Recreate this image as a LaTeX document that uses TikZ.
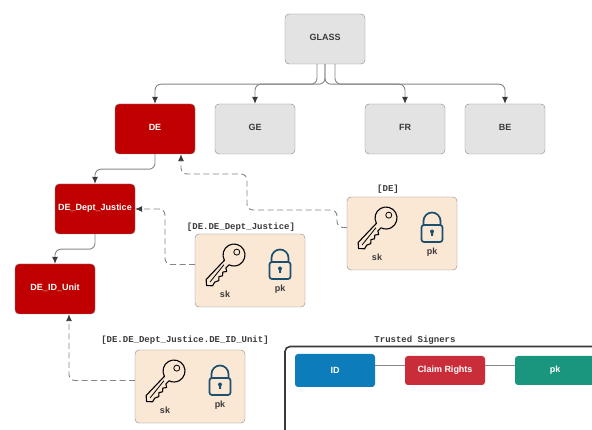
\documentclass[tikz,border=0pt]{standalone}
\usepackage{fontspec}
\setmainfont{Liberation Sans}
\setmonofont{Liberation Mono}
\usetikzlibrary{arrows.meta}
\definecolor{boxgray}{HTML}{E3E3E3}
\definecolor{edgegray}{HTML}{858585}
\definecolor{darkred}{HTML}{C00000}
\definecolor{cardpeach}{HTML}{FAE8D5}
\definecolor{lockblue}{HTML}{1A4F70}
\definecolor{idblue}{HTML}{0C7CBA}
\definecolor{rightsred}{HTML}{C92D39}
\definecolor{pkgreen}{HTML}{19967D}
\definecolor{inkgray}{HTML}{3A3A3A}
\tikzset{
  base/.style={rounded corners=4pt, minimum width=80pt, minimum height=50pt, inner sep=0pt,
    text height=6.5pt, text depth=2.5pt, font=\fontsize{9}{11}\selectfont\bfseries},
  org/.style={base, draw=edgegray, fill=boxgray, text=inkgray},
  member/.style={base, draw=edgegray, fill=darkred, text=white},
  card/.style={draw=edgegray, fill=cardpeach, rounded corners=4pt, minimum width=110pt, minimum height=73pt},
  cardtext/.style={font=\fontsize{9}{11}\selectfont\bfseries, text=inkgray},
  keyname/.style={font=\fontsize{9}{11}\selectfont\ttfamily\bfseries, text=inkgray},
  cell/.style={rounded corners=3pt, minimum width=80pt, minimum height=29pt, inner sep=0pt, text=white,
    font=\fontsize{9}{11}\selectfont\bfseries},
  conn/.style={draw=edgegray, line width=0.9pt, rounded corners=6pt, -{Latex[length=7pt,width=6pt,color=inkgray]}},
  dashconn/.style={conn, dash pattern=on 6pt off 3.5pt},
  tie/.style={draw=edgegray, line width=1.3pt},
  keyicon/.pic={
    \draw[x=1pt, y=1pt, rotate=46, line width=1.1pt, line join=round, black]
      (-10.5,3.2) arc[start angle=163, end angle=-163, radius=11]
      -- (-15,-3.2) -- (-17,-6.2) -- (-20,-3.8) -- (-23,-6.2) -- (-26,-4.2) -- (-29,-6.8) -- (-33,-5)
      -- (-37,-6) -- (-41,-1.5) -- (-37,3) -- cycle;
    \draw[x=1pt, y=1pt, rotate=46, line width=0.8pt, black]
      (4,0) circle[radius=3] (-14,0.5) -- (-36,-1.5);
  },
  lockicon/.pic={
    \draw[x=1pt, y=1pt, lockblue, line width=1.7pt]
      (-8.5,0) -- (-8.5,4) arc[start angle=180, end angle=0, radius=8.5] -- (8.5,0);
    \draw[x=1pt, y=1pt, lockblue, line width=1.7pt, fill=cardpeach, rounded corners=2.5pt]
      (-10.5,-17) rectangle (10.5,0);
    \fill[x=1pt, y=1pt, lockblue] (0,-6.5) circle[radius=2] (-1,-6.5) rectangle (1,-11);
  },
  signcard/.pic={
    \node[card] (-box) at (55,36.5) {};
    \coordinate (-port) at (0,30.5);
    \pic at (39,21) {keyicon};
    \pic at (85,28) {lockicon};
    \node[cardtext] (-sk) at (30,60.5) {sk};
    \node[cardtext] (-pk) at (85,55) {pk};
  }
}
\begin{document}
\begin{tikzpicture}[x=1pt, y=-1pt]
  \clip (0,0) rectangle (592,430);
  \node[org] (glass) at (325,39) {GLASS};
  \node[member] (de) at (155,129) {DE};
  \node[org] (ge) at (255,129) {GE};
  \node[org] (fr) at (405,129) {FR};
  \node[org] (be) at (505,129) {BE};
  \node[member] (justice) at (95,209) {DE\_Dept\_Justice};
  \node[member] (idunit) at (55,289) {DE\_ID\_Unit};
  \pic (cardde) at (347,197) {signcard};
  \pic (cardjustice) at (195,234) {signcard};
  \pic (cardunit) at (135,350) {signcard};
  \node[keyname] (namede) at (388,189.5) {[DE]};
  \node[keyname] (namejustice) at (241,227.5) {[DE.DE\_Dept\_Justice]};
  \node[keyname] (nameunit) at (185,340) {[DE.DE\_Dept\_Justice.DE\_ID\_Unit]};
  \node[keyname] (trustedname) at (415,340) {Trusted Signers};
  \draw[inkgray, line width=1.6pt, rounded corners=5pt] (285,470) -- (285,346.5) -- (640,346.5);
  \node[cell, fill=idblue, minimum height=33pt] (idcell) at (335,370.5) {ID};
  \node[cell, fill=rightsred] (rightscell) at (445,370.5) {Claim Rights};
  \node[cell, fill=pkgreen] (pkcell) at (555,370.5) {pk};
  \draw[tie] ([yshift=5pt]idcell.east) -- ([yshift=5pt]rightscell.west);
  \draw[tie] ([yshift=5pt]rightscell.east) -- ([yshift=5pt]pkcell.west);
  \draw[conn] ([xshift=-8pt]glass.south) -- ++(0,20) -| (de.north);
  \draw[conn] (glass.south) -- ++(0,20) -| (ge.north);
  \draw[conn] (glass.south) -- ++(0,20) -| (fr.north);
  \draw[conn] ([xshift=10pt]glass.south) -- ++(0,20) -| (be.north);
  \draw[conn] (de.south) -- ++(0,15) -| (justice.north);
  \draw[conn] (justice.south) -- ++(0,15) -| (idunit.north);
  \draw[dashconn] (cardde-port) -- ++(-10,0) |- (247,210) |- (181,174) -- ([xshift=26pt]de.south);
  \draw[dashconn] (cardjustice-port) -| (165,209) -- (justice.east);
  \draw[dashconn] (cardunit-port) -| ([xshift=14pt]idunit.south);
\end{tikzpicture}
\end{document}
